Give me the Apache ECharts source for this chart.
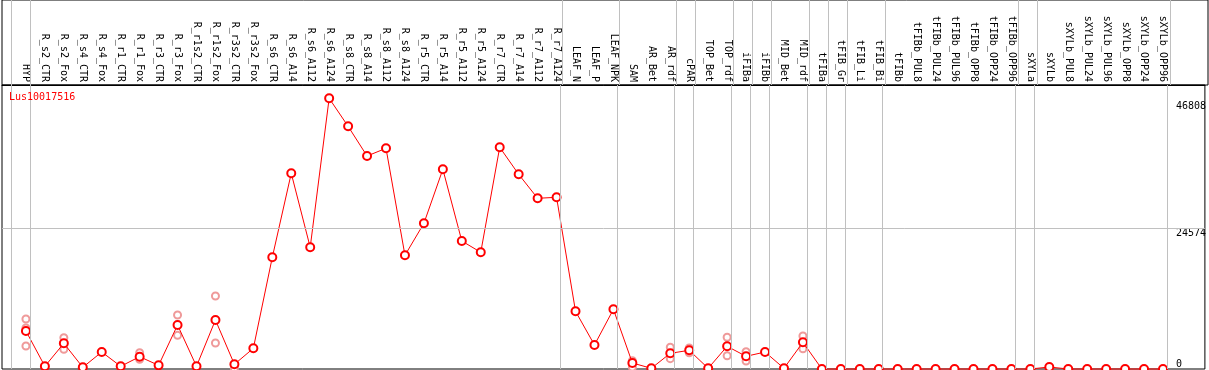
<!DOCTYPE html>
<html>
<head>
<meta charset="utf-8">
<script src="https://cdn.jsdelivr.net/npm/echarts@6/dist/echarts.min.js"></script>
<style>
html,body{margin:0;padding:0;background:#fff;}
#chart{width:1209px;height:370px;}
</style>
</head>
<body>
<div id="chart"></div>
<script>
const geneName = 'Lus10017516';
const categories = ['HYP','R_s2_CTR','R_s2_Fox','R_s4_CTR','R_s4_Fox','R_r1_CTR','R_r1_Fox','R_r3_CTR','R_r3_Fox','R_r1s2_CTR','R_r1s2_Fox','R_r3s2_CTR','R_r3s2_Fox','R_s6_CTR','R_s6_A14','R_s6_A112','R_s6_A124','R_s8_CTR','R_s8_A14','R_s8_A112','R_s8_A124','R_r5_CTR','R_r5_A14','R_r5_A112','R_r5_A124','R_r7_CTR','R_r7_A14','R_r7_A112','R_r7_A124','LEAF_N','LEAF_P','LEAF_NPK','SAM','AR_Bet','AR_rdf','cPAR','TOP_Bet','TOP_rdf','iFIBa','iFIBb','MID_Bet','MID_rdf','tFIBa','tFIB_Gr','tFIB_Li','tFIB_Bi','tFIBb','tFIBb_PUL8','tFIBb_PUL24','tFIBb_PUL96','tFIBb_OPP8','tFIBb_OPP24','tFIBb_OPP96','sXYLa','sXYLb','sXYLb_PUL8','sXYLb_PUL24','sXYLb_PUL96','sXYLb_OPP8','sXYLb_OPP24','sXYLb_OPP96'];
const meanValues = [6637,470,4488,290,2969,470,2148,640,7685,470,8558,815,3615,19508,34178,21254,47278,42387,37200,38545,19857,25446,34876,22355,20381,38720,34003,29813,29987,10077,4192,10426,1048,120,2742,3266,120,3964,2218,2969,120,4663,0,0,0,0,0,0,0,0,0,0,0,0,350,0,0,0,0,0,0];
const replicateValues = [[8733,7160,4017],[],[5473,3440],[],[],[],[2847,1688],[],[9431,5880],[],[12749,4541],[120],[],[],[],[],[],[],[],[],[],[],[],[],[],[],[],[],[],[],[],[],[1450,290],[],[3790,1805],[3668,2847],[],[5536,2323],[3021,1397],[],[],[5763,3545],[],[],[],[],[],[],[],[],[],[],[],[],[],[],[],[],[],[],[]];
const yTickLabels = [24574, 46808];
const yZeroLabel = [0];
const gridLineValue = 24574;
const groupEnds = [-1,0,28,31,34,35,37,38,39,41,42,43,45,52,53,60];

const FONT = 'DejaVu Sans Mono';
const xMin = -24 / 19, xMax = 1182 / 19;
const yMax = 49601;

const lineData = meanValues.map((v, i) => [i, v]);
const repData = [];
replicateValues.forEach((arr, i) => arr.forEach(v => repData.push([i, v])));
const sepLines = groupEnds.map(i => ({xAxis: i + 0.21}));
const greyLine = {color: '#c0c0c0', width: 1, type: 'solid'};

const chart = echarts.init(document.getElementById('chart'), null, {renderer: 'canvas'});
chart.setOption({
  animation: false,
  backgroundColor: '#fff',
  title: {
    text: geneName, left: 9, top: 92, padding: 0,
    textStyle: {color: '#ff0000', fontSize: 10, fontWeight: 'normal', fontFamily: FONT}
  },
  grid: [
    {left: 2, right: 1, top: 85, bottom: 1, show: true, borderColor: '#000', borderWidth: 1, backgroundColor: 'transparent'},
    {left: 2, right: 1, top: 0, height: 85, show: true, borderColor: '#000', borderWidth: 1, backgroundColor: 'transparent'}
  ],
  xAxis: [{
    type: 'value', gridIndex: 0, position: 'top', min: xMin, max: xMax,
    axisLine: {show: true, onZero: false, lineStyle: {color: '#000', width: 1}},
    axisTick: {show: false},
    splitLine: {show: false},
    axisLabel: {
      customValues: categories.map((c, i) => i),
      formatter: v => categories[Math.round(v)] || '',
      rotate: 90, margin: 3, color: '#000', fontSize: 10, fontFamily: FONT
    }
  }, {
    type: 'value', gridIndex: 1, min: xMin, max: xMax, show: false
  }],
  yAxis: [{
    type: 'value', gridIndex: 0, position: 'right', offset: -31, min: 0, max: yMax,
    axisLine: {show: false}, axisTick: {show: false}, splitLine: {show: false},
    axisLabel: {customValues: yTickLabels, formatter: v => String(v), verticalAlign: 'top', margin: 2, color: '#000', fontSize: 10, fontFamily: FONT}
  }, {
    type: 'value', gridIndex: 0, position: 'right', offset: -31, min: 0, max: yMax,
    axisLine: {show: false}, axisTick: {show: false}, splitLine: {show: false},
    axisLabel: {customValues: yZeroLabel, formatter: v => String(v), verticalAlign: 'bottom', margin: 2, color: '#000', fontSize: 10, fontFamily: FONT}
  }, {
    type: 'value', gridIndex: 1, min: 0, max: 1, show: false
  }],
  series: [{
    type: 'scatter', xAxisIndex: 1, yAxisIndex: 2, data: [[0, 0.5]], symbolSize: 0, silent: true,
    itemStyle: {color: 'rgba(0,0,0,0)'},
    markLine: {silent: true, symbol: 'none', label: {show: false}, animation: false, lineStyle: greyLine, data: sepLines}
  }, {
    type: 'scatter', xAxisIndex: 0, yAxisIndex: 0, data: repData, z: 2, clip: false,
    symbol: 'emptyCircle', symbolSize: 7,
    itemStyle: {color: '#ef9a9a', borderColor: '#ef9a9a', borderWidth: 1.3, opacity: 1},
    markLine: {
      silent: true, symbol: 'none', label: {show: false}, animation: false, lineStyle: greyLine,
      data: sepLines.concat([{yAxis: gridLineValue}])
    }
  }, {
    type: 'line', xAxisIndex: 0, yAxisIndex: 0, data: lineData, z: 3, clip: false,
    symbol: 'emptyCircle', symbolSize: 8, showAllSymbol: true,
    lineStyle: {color: '#ff0000', width: 1},
    itemStyle: {color: '#ff0000', borderColor: '#ff0000', borderWidth: 1.5}
  }]
});
</script>
</body>
</html>
